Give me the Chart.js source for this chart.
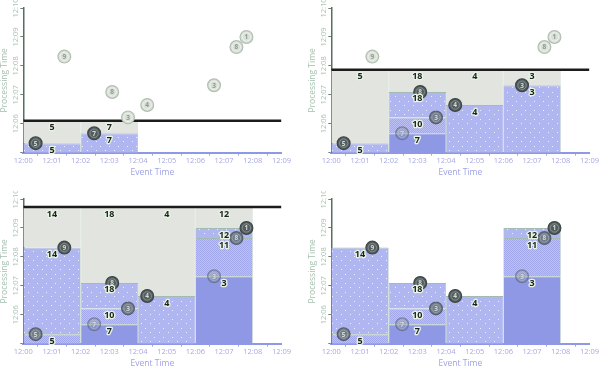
<!DOCTYPE html>
<html>
<head>
<meta charset="utf-8">
<script src="https://cdn.jsdelivr.net/npm/chart.js@4.4.1/dist/chart.umd.min.js"></script>
<style>
  html, body { margin: 0; padding: 0; background: #fff; }
  #wrap { position: relative; width: 600px; height: 366px; overflow: hidden; }
  .panel { position: absolute; width: 292px; height: 178px; }
</style>
</head>
<body>
<div id="wrap">
  <div class="panel" style="left:0;top:0"><canvas id="c1" width="292" height="178"></canvas></div>
  <div class="panel" style="left:308px;top:0"><canvas id="c2" width="292" height="178"></canvas></div>
  <div class="panel" style="left:0;top:191px"><canvas id="c3" width="292" height="178"></canvas></div>
  <div class="panel" style="left:308px;top:191px"><canvas id="c4" width="292" height="178"></canvas></div>
</div>
<script>
// minutes after 12:00
const pointValues   = [5,    7,    3,    4,    3,    8,    9,    8,    1];
const eventMinutes  = [0.43, 2.47, 3.65, 4.32, 6.65, 3.10, 1.43, 7.43, 7.78];
const procMinutes   = [5.33, 5.67, 6.22, 6.65, 7.33, 7.10, 8.32, 8.65, 9.00];
const windowStarts  = [0, 2, 4, 6];
const windowSize    = 2;
const watermarks    = [6.1, 7.87, 9.72, null]; // black line per panel, last panel has none
const xTickLabels   = ['12:00', '12:01', '12:02', '12:03', '12:04', '12:05', '12:06', '12:07', '12:08', '12:09'];
const yTickLabels   = ['', '12:06', '12:07', '12:08', '12:09', '12:10'];

function tile(base, dot, size, spots) {
    const c = document.createElement('canvas');
    c.width = c.height = size;
    const g = c.getContext('2d');
    g.fillStyle = base;
    g.fillRect(0, 0, size, size);
    g.fillStyle = dot;
    spots.forEach(([x, y]) => g.fillRect(x, y, 1, 1));
    return g.createPattern(c, 'repeat');
}

const paneFill = {
    0: tile('#b0b6f0', '#eef0ff', 9, [[1, 2], [6, 6]]),
    1: tile('#a3a8ea', '#bcc0f4', 2, [[0, 0], [1, 1]]),
    2: '#8f98e5',
    grey: '#e2e4df'
};
const circleFill = {
    pending: '#dadfd7',
    0: '#535d5d',
    1: 'rgba(92,102,108,0.75)',
    2: 'rgba(120,130,150,0.35)'
};
const circleBorder = {
    pending: '#b2c1b3',
    0: '#3d4646',
    1: 'rgba(70,80,85,0.8)',
    2: 'rgba(90,100,120,0.6)'
};

function buildPanel(wm) {
    const panes = [];
    const points = [];
    windowStarts.forEach(ws => {
        const inWin = pointValues.map((v, i) => i)
            .filter(i => eventMinutes[i] >= ws && eventMinutes[i] < ws + windowSize);
        const done = inWin.filter(i => wm === null || procMinutes[i] <= wm)
            .sort((a, b) => procMinutes[a] - procMinutes[b]);
        let bottom = 5, sum = 0;
        done.forEach((i, k) => {
            sum += pointValues[i];
            panes.push({ x: ws + windowSize / 2, y: [bottom, procMinutes[i]], sum: sum, kind: done.length - 1 - k });
            bottom = procMinutes[i];
        });
        if (wm !== null && done.length) {
            panes.push({ x: ws + windowSize / 2, y: [bottom, wm], sum: sum, kind: 'grey' });
        }
        inWin.forEach(i => {
            const k = done.indexOf(i);
            points.push({ x: eventMinutes[i], y: procMinutes[i], v: pointValues[i], kind: k < 0 ? 'pending' : done.length - 1 - k });
        });
    });
    return { panes, points };
}

const numberPlugin = {
    id: 'numbers',
    afterDatasetsDraw(chart) {
        const ctx = chart.ctx;
        const xs = chart.scales.x, ys = chart.scales.y;
        ctx.save();
        ctx.textAlign = 'center';
        ctx.textBaseline = 'middle';
        chart.data.datasets.forEach(ds => {
            if (ds.role !== 'points') return;
            ds.data.forEach(p => {
                const px = xs.getPixelForValue(p.x), py = ys.getPixelForValue(p.y);
                ctx.beginPath();
                ctx.arc(px, py, 4.2, 0, Math.PI * 2);
                ctx.lineWidth = 0.8;
                ctx.strokeStyle = p.kind === 'pending' ? '#f3f6f1' : 'rgba(200,210,210,0.5)';
                ctx.stroke();
                ctx.font = 'bold 6.5px "Open Sans"';
                ctx.fillStyle = p.kind === 'pending' ? '#8e9b91' : '#d2d9d6';
                ctx.fillText(p.v, px, py + 0.5);
            });
        });
        chart.data.datasets.forEach(ds => {
            if (ds.role !== 'panes') return;
            ds.data.forEach(d => {
                const px = xs.getPixelForValue(d.x), py = ys.getPixelForValue(d.y[1]) + 7;
                ctx.font = 'bold 9px "Open Sans"';
                ctx.lineJoin = 'round';
                ctx.lineWidth = 2.6;
                ctx.strokeStyle = '#e9f4e4';
                ctx.strokeText(d.sum, px, py);
                ctx.fillStyle = '#1b2320';
                ctx.fillText(d.sum, px, py);
            });
        });
        ctx.restore();
    }
};

function makeChart(id, wm) {
    const { panes, points } = buildPanel(wm);
    const datasets = [{
        type: 'bar',
        role: 'panes',
        data: panes,
        grouped: false,
        categoryPercentage: 2,
        barPercentage: 1,
        backgroundColor: c => paneFill[c.raw.kind],
        borderColor: c => c.raw.kind === 'grey' ? '#c9d6cc' : '#a3bcb2',
        borderWidth: { top: 1, left: 0.6, right: 0.6, bottom: 0 },
        borderSkipped: false,
        order: 3
    }, {
        type: 'scatter',
        role: 'points',
        data: points,
        pointRadius: 6.4,
        pointBorderWidth: 1.2,
        pointBackgroundColor: c => circleFill[c.raw.kind],
        pointBorderColor: c => circleBorder[c.raw.kind],
        order: 1
    }];
    if (wm !== null) {
        datasets.push({
            type: 'scatter',
            role: 'watermark',
            data: [{ x: 0, y: wm }, { x: 9, y: wm }],
            showLine: true,
            borderColor: '#1c1c1c',
            borderWidth: 2.5,
            pointRadius: 0,
            order: 2
        });
    }
    new Chart(document.getElementById(id), {
        type: 'scatter',
        data: { datasets },
        options: {
            responsive: false,
            animation: false,
            devicePixelRatio: 1,
            layout: { padding: { left: 0, right: 9, top: 8, bottom: 0 } },
            plugins: { legend: { display: false }, tooltip: { enabled: false } },
            scales: {
                x: {
                    type: 'linear', min: 0, max: 9, offset: false,
                    ticks: {
                        stepSize: 1, autoSkip: false, maxRotation: 0, padding: 1,
                        callback: (v, i) => xTickLabels[i],
                        color: '#a6a9e3', font: { family: 'Open Sans', size: 7.5 }
                    },
                    grid: { drawOnChartArea: false, tickLength: 3, color: '#a1a7e7' },
                    border: { color: '#8f98e6', width: 2 },
                    title: { display: true, text: 'Event Time', color: '#9ea3e2', padding: 0, font: { family: 'Open Sans', size: 8.5 } },
                    afterFit: s => { s.height = 25.3; }
                },
                y: {
                    type: 'linear', min: 5, max: 10, z: 1,
                    ticks: {
                        stepSize: 1, minRotation: 90, maxRotation: 90, crossAlign: 'center', padding: -5,
                        callback: (v, i) => yTickLabels[i],
                        color: '#a8c3b2', font: { family: 'Open Sans', size: 7.5 }
                    },
                    grid: { drawOnChartArea: false, tickLength: 3, color: '#6b8377' },
                    border: { color: '#56705f', width: 1.5 },
                    title: { display: true, text: 'Processing Time', color: '#a5c0af', padding: 0, font: { family: 'Open Sans', size: 8.5, lineHeight: 1 } },
                    afterFit: s => { s.width = 23.3; }
                }
            }
        },
        plugins: [numberPlugin]
    });
}

document.addEventListener('DOMContentLoaded', () => {
    makeChart('c1', watermarks[0]);
    makeChart('c2', watermarks[1]);
    makeChart('c3', watermarks[2]);
    makeChart('c4', watermarks[3]);
});
</script>
</body>
</html>
